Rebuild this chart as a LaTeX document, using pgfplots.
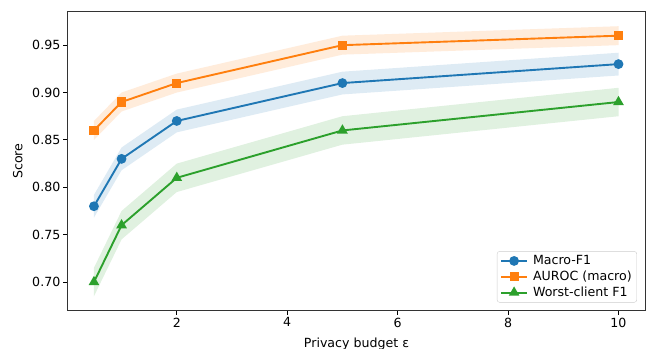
\documentclass[border=0pt]{standalone}
\usepackage{pgfplots}
\pgfplotsset{compat=1.18}
\usepackage{fontspec}
\setmainfont{DejaVu Sans}
\definecolor{tabblue}{HTML}{1F77B4}
\definecolor{taborange}{HTML}{FF7F0E}
\definecolor{tabgreen}{HTML}{2CA02C}
\begin{document}
\fontsize{12.6bp}{15bp}\selectfont
\begin{tikzpicture}[x=1bp,y=1bp]
\begin{axis}[
  scale only axis, width=577bp, height=298bp,
  at={(0,0)}, anchor=south west,
  xmin=0.03, xmax=10.48, ymin=0.6705, ymax=0.985,
  xtick={2,4,6,8,10},
  ytick={0.70,0.75,0.80,0.85,0.90,0.95},
  yticklabel style={/pgf/number format/.cd,fixed,fixed zerofill,precision=2},
  /pgf/number format/assume math mode=true,
  tick align=outside, major tick length=4.5bp,
  tick style={black, line width=1bp},
  axis line style={line width=1bp, black!80},
  xtick pos=bottom, ytick pos=left,
  ticklabel style={font=\fontsize{12.6bp}{15bp}\selectfont, inner sep=3bp},
  xlabel={Privacy budget ε}, ylabel={Score},
  label style={font=\fontsize{12.6bp}{15bp}\selectfont},
  ylabel style={at={(axis description cs:-0.087,0.5)}, anchor=center},
  xlabel style={at={(axis description cs:0.5,0)}, anchor=base, yshift=-37bp},
  legend cell align=left,
  legend style={font=\fontsize{12.6bp}{15bp}\selectfont, draw=black!20, rounded corners=2.5bp, inner xsep=3bp, inner ysep=2bp, row sep=0.5bp, at={(0.986,0.025)}, anchor=south east,
    /tikz/every odd column/.append style={column sep=3bp}},
  legend image code/.code={\draw[mark repeat=2,mark phase=2,#1] plot coordinates {(0bp,0bp)(13bp,0bp)(26bp,0bp)};},
]
% bands
\addplot[forget plot, fill=tabblue, fill opacity=0.15, draw=none] coordinates {
(0.5,0.792)(1,0.842)(2,0.882)(5,0.922)(10,0.942)
(10,0.918)(5,0.898)(2,0.858)(1,0.818)(0.5,0.768)} -- cycle;
\addplot[forget plot, fill=taborange, fill opacity=0.15, draw=none] coordinates {
(0.5,0.870)(1,0.900)(2,0.920)(5,0.960)(10,0.970)
(10,0.950)(5,0.940)(2,0.900)(1,0.880)(0.5,0.850)} -- cycle;
\addplot[forget plot, fill=tabgreen, fill opacity=0.15, draw=none] coordinates {
(0.5,0.715)(1,0.775)(2,0.825)(5,0.875)(10,0.905)
(10,0.875)(5,0.845)(2,0.795)(1,0.745)(0.5,0.685)} -- cycle;
% lines
\addplot[tabblue, line width=1.9bp, mark=*, mark size=3.9bp, mark options={solid}] coordinates {
(0.5,0.78)(1,0.83)(2,0.87)(5,0.91)(10,0.93)};
\addlegendentry{Macro-F1}
\addplot[taborange, line width=1.9bp, mark=square*, mark size=3.6bp] coordinates {
(0.5,0.86)(1,0.89)(2,0.91)(5,0.95)(10,0.96)};
\addlegendentry{AUROC (macro)}
\addplot[tabgreen, line width=1.9bp, mark=triangle*, mark size=4.3bp] coordinates {
(0.5,0.70)(1,0.76)(2,0.81)(5,0.86)(10,0.89)};
\addlegendentry{Worst-client F1}
\end{axis}
\pgfresetboundingbox
\path[use as bounding box] (-68bp,-39bp) rectangle (580bp,310bp);
\end{tikzpicture}
\end{document}
